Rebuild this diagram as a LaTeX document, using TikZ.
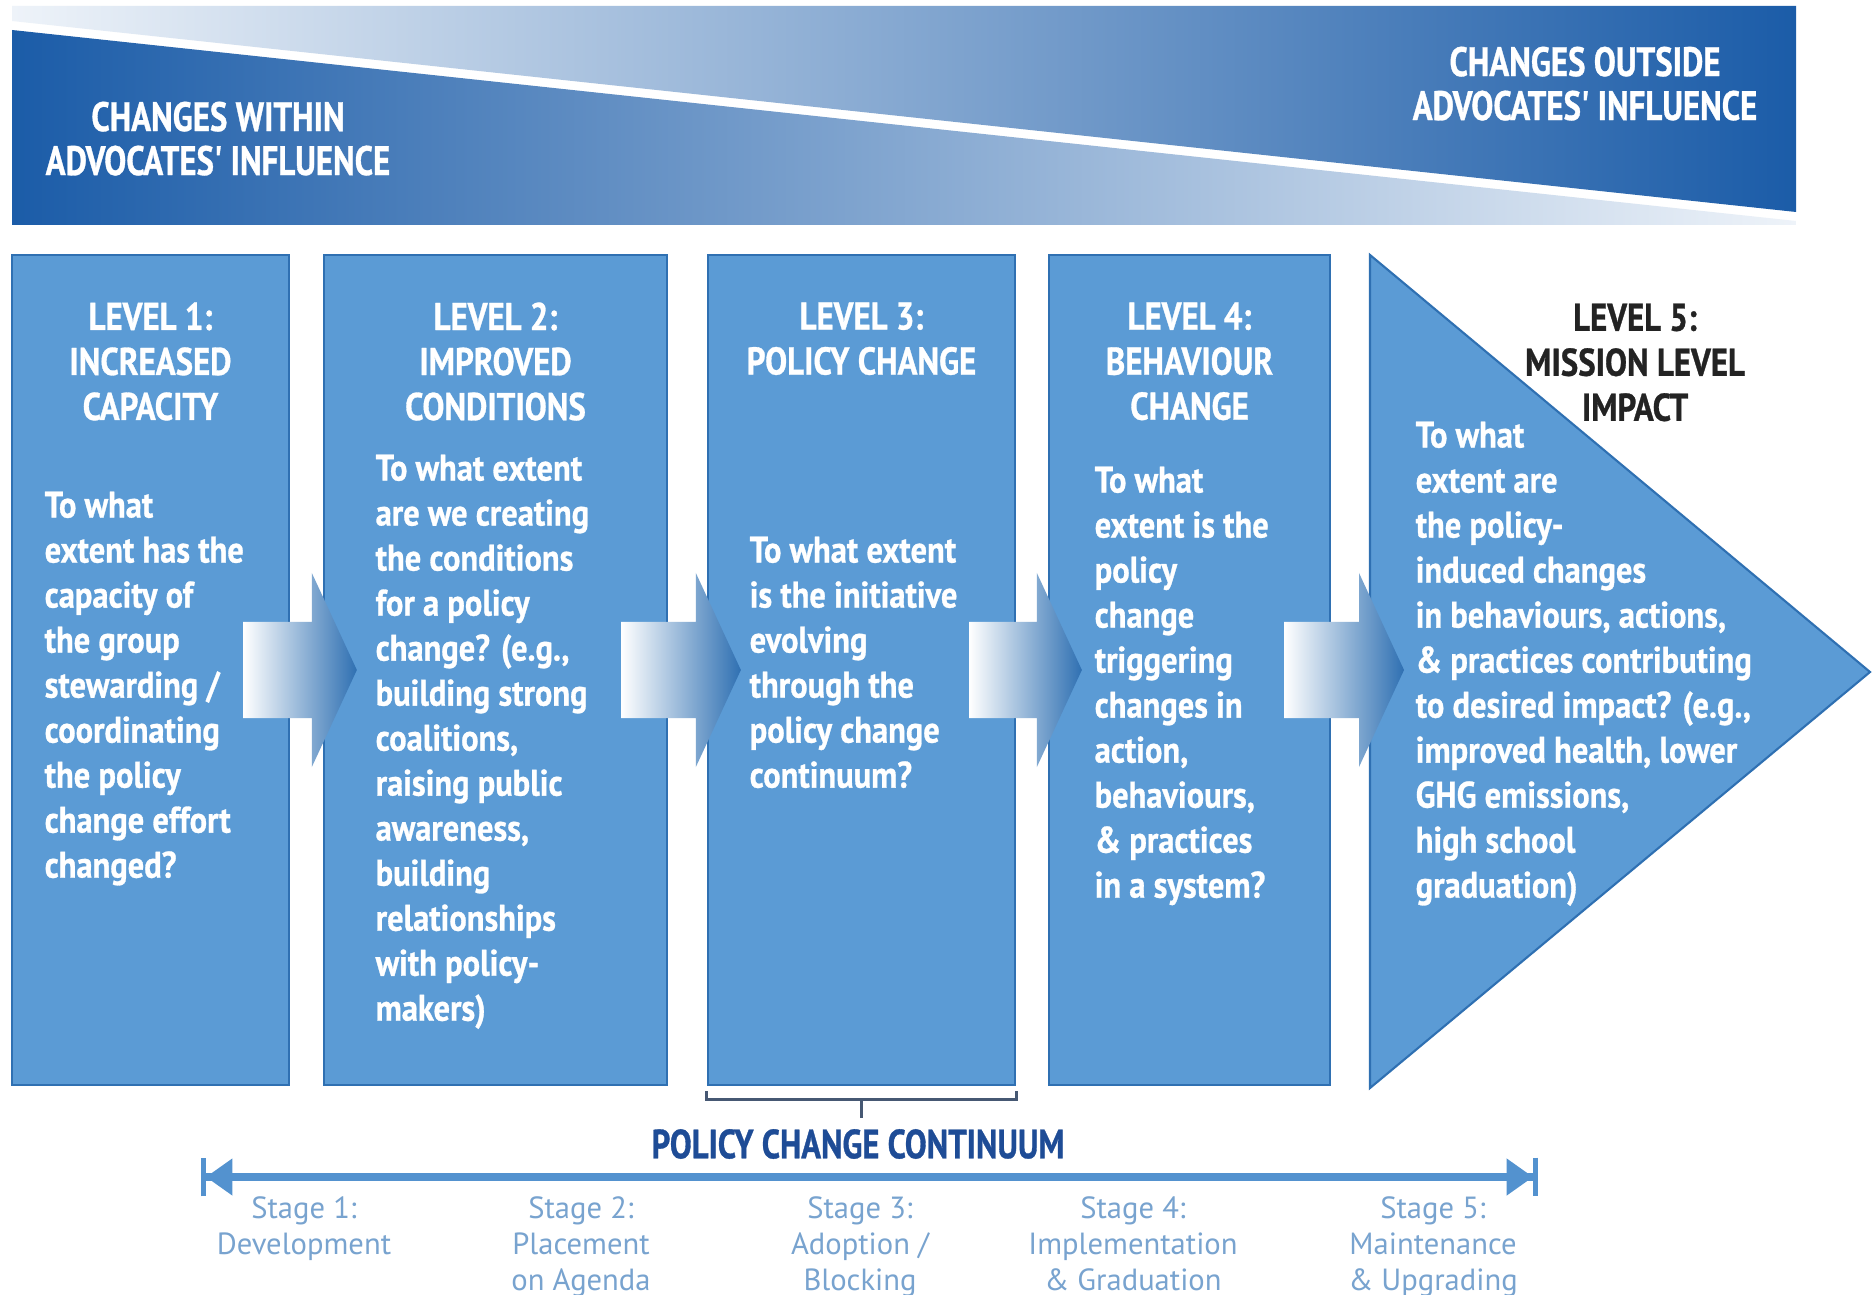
\documentclass[tikz,border=0pt]{standalone}
\usepackage{fontspec}
\setmainfont{PT Sans}
\newfontfamily\headfont[FakeStretch=0.85, BoldFeatures={FakeBold=0.8}]{PT Sans}
\newfontfamily\bodyfont[FakeStretch=0.88, BoldFeatures={FakeBold=0.8}]{PT Sans}
\newfontfamily\condfont[FakeStretch=0.8, BoldFeatures={FakeBold=0.8}]{PT Sans}
\usepackage{tikz}
\usetikzlibrary{positioning,arrows.meta}

\definecolor{boxblue}{RGB}{91,155,213}
\definecolor{boxline}{RGB}{47,112,178}
\definecolor{bandark}{RGB}{27,92,168}
\definecolor{banlight}{RGB}{238,243,249}
\definecolor{inkdark}{RGB}{35,35,35}
\definecolor{navy}{RGB}{30,76,150}
\definecolor{stageblue}{RGB}{120,163,207}
\definecolor{axisblue}{RGB}{83,146,207}
\definecolor{bracketgray}{RGB}{70,88,115}

\tikzset{
  levelfill/.style={draw=boxline, line width=0.6pt, fill=boxblue},
  levelbox/.style={levelfill, minimum height=8.3cm, inner sep=0pt},
  heading/.style={text=white, font=\headfont\bfseries\fontsize{11}{12.8}\selectfont, align=center, inner sep=0pt},
  question/.style={text=white, font=\bodyfont\bfseries\fontsize{10.5}{12.8}\selectfont, align=left, inner sep=0pt, anchor=north west},
  bannertext/.style={text=white, font=\condfont\bfseries\fontsize{11.7}{12.5}\selectfont, align=center, inner sep=0pt, anchor=north},
  stagelabel/.style={text=stageblue, font=\fontsize{8.7}{10.2}\selectfont, align=center, inner sep=0pt, anchor=north},
  flowshade/.style={left color=white, right color=boxline},
  bracketline/.style={draw=bracketgray, line width=0.8pt},
  axisline/.style={draw=axisblue, line width=2pt, {Bar[width=11pt,line width=1.4pt]Triangle[length=7.5pt,width=10pt]}-{Triangle[length=7.5pt,width=10pt]Bar[width=11pt,line width=1.4pt]}},
}

\begin{document}
\begin{tikzpicture}[x=0.01cm, y=-0.01cm]
\fill[white] (0,0) rectangle (1874,1295);
\useasboundingbox (0,0) rectangle (1874,1295);

% banner
\shade[left color=banlight, right color=bandark] (12,6) -- (1796,6) -- (1796,212) -- (12,21) -- cycle;
\shade[left color=bandark, right color=banlight] (12,30) -- (1796,221) -- (1796,225) -- (12,225) -- cycle;
\node[bannertext] (inside) at (218,101) {CHANGES WITHIN\\ADVOCATES' INFLUENCE};
\node[bannertext] (outside) at (1585,46) {CHANGES OUTSIDE\\ADVOCATES' INFLUENCE};

% levels
\node[levelbox, minimum width=2.77cm] (l1) at (150.5,670) {};
\node[levelbox, minimum width=3.43cm] (l2) at (495.5,670) {};
\node[levelbox, minimum width=3.07cm] (l3) at (861.5,670) {};
\node[levelbox, minimum width=2.81cm] (l4) at (1189.5,670) {};
\filldraw[levelfill] (1370,255) -- (1870,672) -- (1370,1088) -- cycle;
\coordinate (l5) at (1370,670);

% block arrows between levels
\foreach \a/\b in {l1.east/l2.west, l2.east/l3.west, l3.east/l4.west, l4.east/l5}
  \shade[flowshade] ([shift={(-47,-48)}]\a) -- ([shift={(-11,-48)}]\b) -- ([shift={(-11,-97)}]\b)
    -- ([shift={(34,0)}]\b) -- ([shift={(-11,97)}]\b) -- ([shift={(-11,48)}]\b)
    -- ([shift={(-47,48)}]\a) -- cycle;

% headings
\node[heading, below=0.48cm of l1.north] (h1) {LEVEL 1:\\INCREASED\\CAPACITY};
\node[heading, below=0.48cm of l2.north] (h2) {LEVEL 2:\\IMPROVED\\CONDITIONS};
\node[heading, below=0.48cm of l3.north] (h3) {LEVEL 3:\\POLICY CHANGE};
\node[heading, below=0.48cm of l4.north] (h4) {LEVEL 4:\\BEHAVIOUR\\CHANGE};
\node[heading, text=inkdark, anchor=north] (h5) at (1635,303) {LEVEL 5:\\MISSION LEVEL\\IMPACT};

% questions
\node[question] (q1) at (44,491) {To what\\extent has the\\capacity of\\the group\\stewarding /\\coordinating\\the policy\\change effort\\changed?};
\node[question] (q2) at (375,454) {To what extent\\are we creating\\the conditions\\for a policy\\change? (e.g.,\\building strong\\coalitions,\\raising public\\awareness,\\building\\relationships\\with policy-\\makers)};
\node[question] (q3) at (749,536) {To what extent\\is the initiative\\evolving\\through the\\policy change\\continuum?};
\node[question] (q4) at (1094,466) {To what\\extent is the\\policy\\change\\triggering\\changes in\\action,\\behaviours,\\\& practices\\in a system?};
\node[question] (q5) at (1415,421) {To what\\extent are\\the policy-\\induced changes\\in behaviours, actions,\\\& practices contributing\\to desired impact? (e.g.,\\improved health, lower\\GHG emissions,\\high school\\graduation)};

% policy change continuum
\draw[bracketline] ([shift={(0,5)}]l3.south west) -- ([shift={(0,13)}]l3.south west) -- ([shift={(0,13)}]l3.south east) -- ([shift={(0,5)}]l3.south east);
\draw[bracketline] ([shift={(0,13)}]l3.south) -- ([shift={(0,32)}]l3.south);
\node[text=navy, font=\condfont\bfseries\fontsize{11.6}{14}\selectfont, inner sep=0pt] (pcc) at (858,1144) {POLICY CHANGE CONTINUUM};

\coordinate (axl) at (201,1177);
\coordinate (axr) at (1538,1177);
\draw[axisline] (axl) -- (axr);

\foreach \x/\txt [count=\i] in {304/{Stage 1:\\Development}, 581/{Stage 2:\\Placement\\on Agenda}, 860/{Stage 3:\\Adoption /\\Blocking}, 1133/{Stage 4:\\Implementation\\\& Graduation}, 1433/{Stage 5:\\Maintenance\\\& Upgrading}}
  \node[stagelabel] (s\i) at (\x,1196) {\txt};
\end{tikzpicture}
\end{document}
